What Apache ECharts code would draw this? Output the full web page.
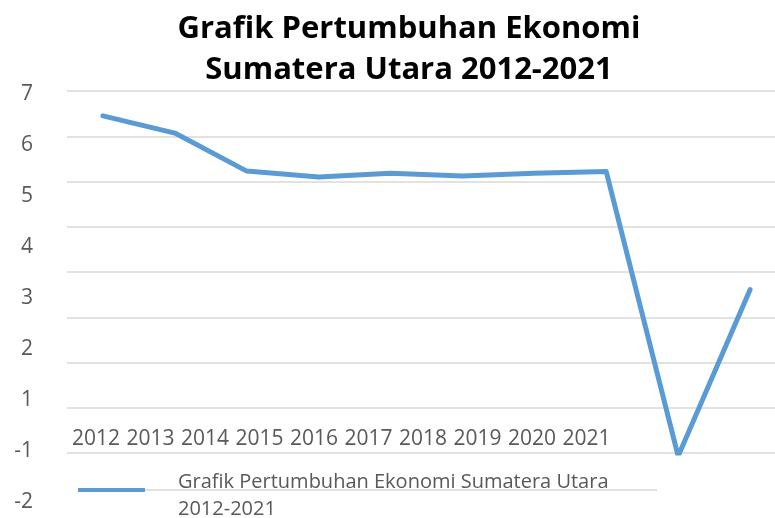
<!DOCTYPE html>
<html lang="id">
<head>
<meta charset="UTF-8">
<title>Grafik Pertumbuhan Ekonomi Sumatera Utara 2012-2021</title>
<script src="https://cdn.jsdelivr.net/npm/echarts@6/dist/echarts.min.js"></script>
<style>
  html, body { margin: 0; padding: 0; background: #fff; }
  #main { width: 775px; height: 518px; }
</style>
</head>
<body>
<div id="main"></div>
<script>
// data
var years = ['2012', '2013', '2014', '2015', '2016', '2017', '2018', '2019', '2020', '2021'];
var growth = [6.45, 6.07, 5.23, 5.10, 5.18, 5.12, 5.18, 5.22, -1.07, 2.61];
// tick labels as they appear on the left side (0 is missing in the picture)
var yLabels = ['-2', '-1', '1', '2', '3', '4', '5', '6', '7'];
var seriesName = 'Grafik Pertumbuhan Ekonomi Sumatera Utara\n2012-2021';

var labelFont = "'Open Sans', sans-serif";
var myChart = echarts.init(document.getElementById('main'));

// legend bar sits a bit above the middle of the two-line text, so the icon
// path carries an (almost) empty strip underneath it
var legendIcon = 'path://M0,0H67V4H0ZM0,16H67V16.01H0Z';

var option = {
    animation: false,
    title: {
        text: 'Grafik Pertumbuhan Ekonomi\nSumatera Utara 2012-2021',
        left: 404,
        top: 4,
        textAlign: 'center',
        textStyle: {
            fontFamily: "'Open Sans', sans-serif",
            fontSize: 31,
            fontWeight: 'bold',
            lineHeight: 41,
            color: '#000'
        }
    },
    legend: {
        left: 78,
        top: 469,
        padding: 0,
        icon: legendIcon,
        itemWidth: 67,
        itemHeight: 16,
        data: [seriesName],
        textStyle: {
            fontFamily: labelFont,
            fontSize: 20,
            lineHeight: 27,
            color: '#595959',
            padding: [0, 0, 0, 28]
        }
    },
    grid: [
        // plot area
        {left: 67, right: -11, top: 91, height: 362, outerBoundsMode: 'none'},
        // grid that only carries the left tick labels
        {left: 40, width: 10, top: 94, bottom: 15.5, outerBoundsMode: 'none'},
        // grid that only carries the year labels
        {left: 68.75, width: 545, top: 0, height: 439.5, outerBoundsMode: 'none'}
    ],
    xAxis: [
        {
            gridIndex: 0, type: 'category', data: years, boundaryGap: true,
            axisLine: {show: false}, axisTick: {show: false}, axisLabel: {show: false}
        },
        {
            gridIndex: 1, type: 'value', show: false
        },
        {
            gridIndex: 2, type: 'category', data: years,
            axisLine: {show: false}, axisTick: {show: false},
            axisLabel: {
                interval: 0, margin: 0, verticalAlign: 'middle',
                fontFamily: labelFont, fontSize: 21, color: '#595959'
            }
        }
    ],
    yAxis: [
        {
            gridIndex: 0, type: 'value', min: -1, max: 7, interval: 1,
            axisLine: {show: false}, axisTick: {show: false}, axisLabel: {show: false},
            splitLine: {lineStyle: {color: '#d9d9d9', width: 1.5}}
        },
        {
            gridIndex: 1, type: 'category', data: yLabels, boundaryGap: false,
            axisLine: {show: false}, axisTick: {show: false}, splitLine: {show: false},
            axisLabel: {
                interval: 0, margin: 7, fontFamily: labelFont, fontSize: 21, color: '#595959'
            }
        },
        {
            gridIndex: 2, type: 'value', show: false
        }
    ],
    graphic: [{
        type: 'line',
        shape: {x1: 112, y1: 490, x2: 657, y2: 490},
        style: {stroke: '#d9d9d9', lineWidth: 1.5},
        z: -1
    }],
    series: [{
        name: seriesName,
        type: 'line',
        xAxisIndex: 0,
        yAxisIndex: 0,
        data: growth,
        symbol: 'none',
        lineStyle: {color: '#5b9bd5', width: 5, cap: 'round', join: 'round'},
        itemStyle: {color: '#5b9bd5'}
    }]
};

myChart.setOption(option);
</script>
</body>
</html>
